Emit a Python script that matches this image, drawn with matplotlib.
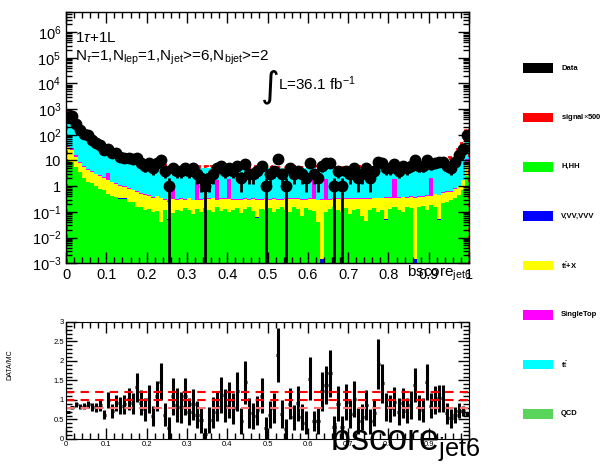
import numpy as np
import matplotlib
matplotlib.use("Agg")
import matplotlib.pyplot as plt
from matplotlib.patches import Rectangle
from matplotlib.ticker import MultipleLocator, LogLocator, NullFormatter, FuncFormatter

plt.rcParams['font.family'] = ['Liberation Sans', 'DejaVu Sans']
plt.rcParams['mathtext.fontset'] = 'custom'
plt.rcParams['mathtext.rm'] = 'Liberation Sans'
plt.rcParams['mathtext.it'] = 'Liberation Sans:italic'
plt.rcParams['mathtext.bf'] = 'Liberation Sans:bold'

# 100 bins of bscore_jet6 between 0 and 1
edges = np.linspace(0, 1, 101)
centers = 0.5 * (edges[1:] + edges[:-1])

# H,HH
h_hh = [9.5, 9.0, 5.6, 3.5, 2.0, 1.45, 1.3, 1.0, 0.81, 0.7,
        0.51, 0.4, 0.38, 0.33, 0.33, 0.25, 0.25, 0.15, 0.16, 0.12,
        0.13, 0.1, 0.11, 0.04, 0.12, 0.05, 0.09, 0.12, 0.11, 0.14,
        0.12, 0.08, 0.13, 0.1, 0.14, 0.12, 0.1, 0.15, 0.11, 0.13,
        0.1, 0.12, 0.14, 0.09, 0.13, 0.15, 0.11, 0.06, 0.13, 0.12,
        0.14, 0.1, 0.13, 0.16, 0.12, 0.1, 0.15, 0.13, 0.07, 0.14,
        0.12, 0.11, 0.04, 0.0005, 0.1, 0.13, 0.15, 0.12, 0.1, 0.14,
        0.08, 0.12, 0.13, 0.07, 0.045, 0.12, 0.14, 0.1, 0.12, 0.05,
        0.13, 0.15, 0.12, 0.1, 0.16, 0.14, 0.0005, 0.15, 0.17, 0.12,
        0.18, 0.16, 0.05, 0.22, 0.25, 0.3, 0.35, 0.45, 0.7, 2.6]
# V,VV,VVV (too small to see)
vvv = [0.001] * 100
# ttbar+X
ttx = [24, 17, 8.4, 4.5, 3.5, 2.75, 2.3, 1.9, 1.7, 1.4,
       1.2, 1.0, 0.82, 0.72, 0.62, 0.55, 0.45, 0.45, 0.34, 0.33,
       0.29, 0.26, 0.29, 0.29, 0.18, 0.2, 0.22, 0.17, 0.2, 0.16,
       0.22, 0.2, 0.15, 0.19, 0.17, 0.2, 0.23, 0.14, 0.2, 0.18,
       0.22, 0.17, 0.15, 0.2, 0.18, 0.14, 0.2, 0.24, 0.16, 0.19,
       0.15, 0.21, 0.17, 0.13, 0.2, 0.22, 0.16, 0.18, 0.22, 0.15,
       0.19, 0.2, 0.24, 0.3, 0.2, 0.17, 0.16, 0.19, 0.22, 0.17,
       0.23, 0.2, 0.18, 0.24, 0.28, 0.2, 0.19, 0.24, 0.22, 0.3,
       0.22, 0.2, 0.24, 0.27, 0.2, 0.24, 0.35, 0.23, 0.22, 0.3,
       0.25, 0.32, 0.4, 0.33, 0.35, 0.3, 0.45, 0.55, 1.0, 5.0]
# SingleTop
single_top = [8, 6, 2, 0.8, 0.5, 0.6, 0.3, 0.2, 0.2, 0.15,
              1.5, 0.1, 0.08, 0.06, 0.05, 0.04, 0.04, 0.03, 0.03, 0.03,
              0.02, 0.02, 0.02, 0.02, 0.02, 0.02, 0.75, 0.02, 0.02, 0.02,
              0.02, 0.02, 1.5, 0.02, 0.02, 0.02, 0.02, 1.5, 0.02, 0.02,
              1.5, 0.02, 0.02, 0.02, 0.02, 0.02, 0.02, 0.02, 0.02, 0.02,
              0.02, 0.02, 0.02, 0.02, 0.02, 0.02, 0.02, 0.02, 0.02, 0.02,
              0.02, 1.4, 0.02, 0.02, 1.6, 0.02, 0.02, 0.02, 0.02, 0.02,
              0.02, 0.02, 0.02, 0.02, 0.02, 0.02, 0.02, 0.02, 0.02, 0.02,
              0.02, 1.6, 0.02, 0.02, 0.02, 0.02, 0.02, 0.02, 0.02, 0.02,
              1.6, 0.02, 0.02, 0.02, 0.02, 0.02, 0.02, 0.02, 0.02, 3.4]
# ttbar
ttbar = [648, 608, 274, 171, 124, 103, 71, 54, 42, 36,
         25, 23.5, 18.7, 15.9, 14, 11.7, 10.8, 9.4, 8.5, 8,
         7.5, 7.1, 6.5, 6.1, 5.7, 4.2, 3.9, 4.7, 4.9, 4.7,
         4.9, 4.9, 3.7, 4.7, 4.9, 4.7, 4.8, 3.8, 4.7, 4.6,
         3.7, 4.7, 4.5, 4.9, 4.7, 4.6, 4.9, 4.7, 4.8, 4.5,
         4.7, 4.9, 4.8, 4.7, 4.4, 4.7, 4.9, 4.6, 4.7, 5.0,
         4.7, 3.8, 4.5, 4.7, 3.7, 4.5, 4.3, 4.5, 4.4, 4.6,
         4.7, 4.9, 5.0, 4.9, 5.1, 5.2, 5.2, 5.4, 5.6, 5.6,
         5.8, 4.8, 5.9, 6.1, 6.2, 6.4, 6.6, 6.8, 7.1, 7.4,
         6.4, 8.3, 8.7, 8.9, 9.4, 10.4, 13.2, 21, 38, 149]
# QCD (empty in this selection)
qcd = [0.0] * 100
# signal x500, drawn on top of the stack
signal = [60, 55, 25, 15, 11, 9, 7, 5, 4, 3.5,
          3, 2.5, 2, 1.8, 1.6, 1.4, 1.3, 1.2, 1.1, 1.0,
          1.0, 0.9, 0.9, 0.8, 0.8] + [0.7] * 55 + \
         [0.8, 0.8, 0.8, 0.9, 0.9, 1.0, 1.0, 1.1, 1.2, 1.3,
          1.4, 1.5, 1.6, 1.8, 2.0, 2.3, 3, 5, 9, 20]

data = [480, 520, 260, 150, 112, 96, 61, 46, 39, 25,
        28, 19, 19, 14, 13, 13, 11, 13, 8, 6,
        8, 5, 8, 10, 4, 1, 5, 4, 4, 5,
        4, 5, 3, 2, 1, 2, 3, 5, 6, 4,
        5, 4, 6, 2, 7, 3, 3, 4, 6, 1,
        3, 4, 11, 3, 1, 5, 3, 4, 3, 2,
        8, 3, 2, 6, 8, 8, 1, 4, 1, 4,
        3, 5, 2, 3, 5, 2, 4, 9, 8, 5,
        5, 7, 4, 6, 5, 6, 10, 6, 6, 10,
        7, 8, 9, 9, 6, 5, 9, 16, 29, 102]

ratio = [0.70, 0.81, 0.89, 0.83, 0.85, 0.89, 0.81, 0.81, 0.87, 0.62,
         1.0, 0.72, 0.93, 0.85, 0.89, 1.03, 0.92, 1.33, 0.93, 0.76,
         1.02, 0.59, 1.1, 1.47, 0.62, 0.28, 1.09, 0.87, 0.81, 1.09,
         0.70, 0.89, 0.62, 0.49, 0.14, 0.49, 0.68, 0.83, 1.13, 0.85,
         1.0, 0.79, 1.22, 0.47, 1.45, 0.66, 0.59, 0.74, 1.11, 0.28,
         0.62, 0.79, 2.15, 0.64, 0.25, 0.9, 0.56, 0.91, 0.57, 0.42,
         1.54, 0.46, 0.46, 1.22, 1.38, 1.68, 0.3, 0.9, 0.3, 0.95,
         0.64, 1.02, 0.46, 0.57, 0.87, 0.45, 0.66, 1.92, 1.43, 0.81,
         0.79, 0.96, 0.70, 0.92, 0.73, 0.87, 1.39, 0.81, 0.74, 1.47,
         0.85, 1.0, 1.04, 1.04, 0.66, 0.53, 0.62, 0.73, 0.72, 0.64]
ratio_err = [0.03, 0.04, 0.06, 0.07, 0.08, 0.09, 0.1, 0.12, 0.14, 0.12,
             0.2, 0.17, 0.21, 0.22, 0.24, 0.28, 0.27, 0.37, 0.32, 0.3,
             0.36, 0.26, 0.38, 0.48, 0.3, 0.28, 0.48, 0.43, 0.4, 0.48,
             0.35, 0.4, 0.35, 0.34, 0.14, 0.34, 0.39, 0.37, 0.46, 0.42,
             0.45, 0.4, 0.5, 0.33, 0.55, 0.38, 0.34, 0.37, 0.45, 0.28,
             0.35, 0.39, 0.7, 0.37, 0.25, 0.4, 0.32, 0.45, 0.33, 0.3,
             0.55, 0.26, 0.33, 0.5, 0.49, 0.6, 0.3, 0.45, 0.3, 0.47,
             0.37, 0.46, 0.33, 0.33, 0.39, 0.32, 0.33, 0.64, 0.5, 0.36,
             0.35, 0.36, 0.35, 0.38, 0.33, 0.36, 0.44, 0.33, 0.3, 0.46,
             0.32, 0.35, 0.35, 0.35, 0.27, 0.24, 0.21, 0.18, 0.13, 0.06]

stack = [("H,HH", h_hh, "#00ff00"),
         ("V,VV,VVV", vvv, "#0000ff"),
         (r"t$\bar{\mathrm{t}}$+X", ttx, "#ffff00"),
         ("SingleTop", single_top, "#ff00ff"),
         (r"t$\bar{\mathrm{t}}$", ttbar, "#00ffff"),
         ("QCD", qcd, "#5ad45a")]

fig = plt.figure(figsize=(6.06, 4.70), dpi=100)
ax = fig.add_axes([0.109, 0.440, 0.665, 0.535])
rax = fig.add_axes([0.109, 0.066, 0.665, 0.249])

# stacked MC
bottom = np.full(100, 1e-6)
for name, vals, col in stack:
    top = bottom + np.array(vals)
    ax.stairs(top, edges, baseline=bottom, fill=True, color=col, lw=0)
    bottom = top
ax.stairs(bottom + np.array(signal), edges, color="red", lw=2, ls=(0, (1.5, 1.5)))

# data
d = np.array(data, dtype=float)
err = np.sqrt(d)
ax.vlines(centers, np.maximum(d - err, 1e-6), d + err, color="black", lw=2, zorder=5)
ax.plot(centers, d, "o", color="black", ms=7.5, zorder=6)

ax.set_yscale("log")
ax.set_xlim(0, 1)
ax.set_ylim(1e-3, 6.2e6)
ax.xaxis.set_major_locator(MultipleLocator(0.1))
ax.xaxis.set_minor_locator(MultipleLocator(0.02))
ax.yaxis.set_major_locator(LogLocator(base=10, numticks=20))
ax.yaxis.set_minor_locator(LogLocator(base=10, subs=np.arange(2, 10), numticks=20))
ax.yaxis.set_minor_formatter(NullFormatter())


def log_label(v, pos):
    e = int(round(np.log10(v)))
    if e == 0:
        return "1"
    if e == 1:
        return "10"
    return r"$10^{%d}$" % e


ax.yaxis.set_major_formatter(FuncFormatter(log_label))
ax.xaxis.set_major_formatter(FuncFormatter(lambda v, p: "%g" % v))
ax.tick_params(which="both", direction="in", top=True, right=True, labelsize=10.5, width=1)
ax.tick_params(which="major", length=8)
ax.tick_params(which="minor", length=4)
for s in ax.spines.values():
    s.set_linewidth(1)

ax.text(0.022, 0.88, r"1$\tau$+1L", transform=ax.transAxes, fontsize=11)
ax.text(0.022, 0.805,
        r"N$_{\tau}$=1,N$_{\mathrm{lep}}$=1,N$_{\mathrm{jet}}$>=6,N$_{\mathrm{bjet}}$>=2",
        transform=ax.transAxes, fontsize=11)
ax.text(0.483, 0.665, "\u222b", transform=ax.transAxes, fontsize=26, family="DejaVu Sans")
ax.text(0.525, 0.69, r"L=36.1 fb$^{-1}$", transform=ax.transAxes, fontsize=11)

fig.text(0.672, 0.412, r"bscore$_{\mathrm{jet6}}$", fontsize=11, zorder=-5)

# ratio panel
rax.errorbar(centers, ratio, yerr=ratio_err, xerr=0.004, fmt="none", ecolor="black", elinewidth=2.2)
for y, c in [(1.2, "#ff0000"), (1.0, "#ff0000"), (0.8, "#ff7070")]:
    rax.axhline(y, color=c, lw=1.5, ls=(0, (4, 3)))
rax.set_xlim(0, 1)
rax.set_ylim(0, 3)
rax.xaxis.set_major_locator(MultipleLocator(0.1))
rax.xaxis.set_minor_locator(MultipleLocator(0.02))
rax.yaxis.set_major_locator(MultipleLocator(0.5))
rax.yaxis.set_minor_locator(MultipleLocator(0.1))
rax.xaxis.set_major_formatter(FuncFormatter(lambda v, p: "%g" % v))
rax.yaxis.set_major_formatter(FuncFormatter(lambda v, p: "%g" % v))
rax.tick_params(which="both", direction="in", top=True, right=True, labelsize=5.5, width=1, pad=1.5)
rax.tick_params(which="major", length=8)
rax.tick_params(which="minor", length=4)
fig.text(0.017, 0.225, "DATA/MC", rotation=90, fontsize=5, va="center", ha="center")

fig.text(0.545, 0.043, r"bscore$_{\mathrm{jet6}}$", fontsize=26, va="baseline")

# legend at the right
legend = [("Data", "black"), (r"signal$\times$500", "#ff0000")] + [(n, c) for n, v, c in stack]
for i, (name, col) in enumerate(legend):
    yc = 470 - (68 + 49.4 * i)
    fig.add_artist(Rectangle((523 / 606, (yc - 4.8) / 470), 30 / 606, 9.6 / 470,
                             transform=fig.transFigure, facecolor=col, edgecolor="none"))
    fig.text(561 / 606, yc / 470, name, fontsize=5.5, fontweight="bold", va="center")

fig.savefig("out.png", dpi=100)
